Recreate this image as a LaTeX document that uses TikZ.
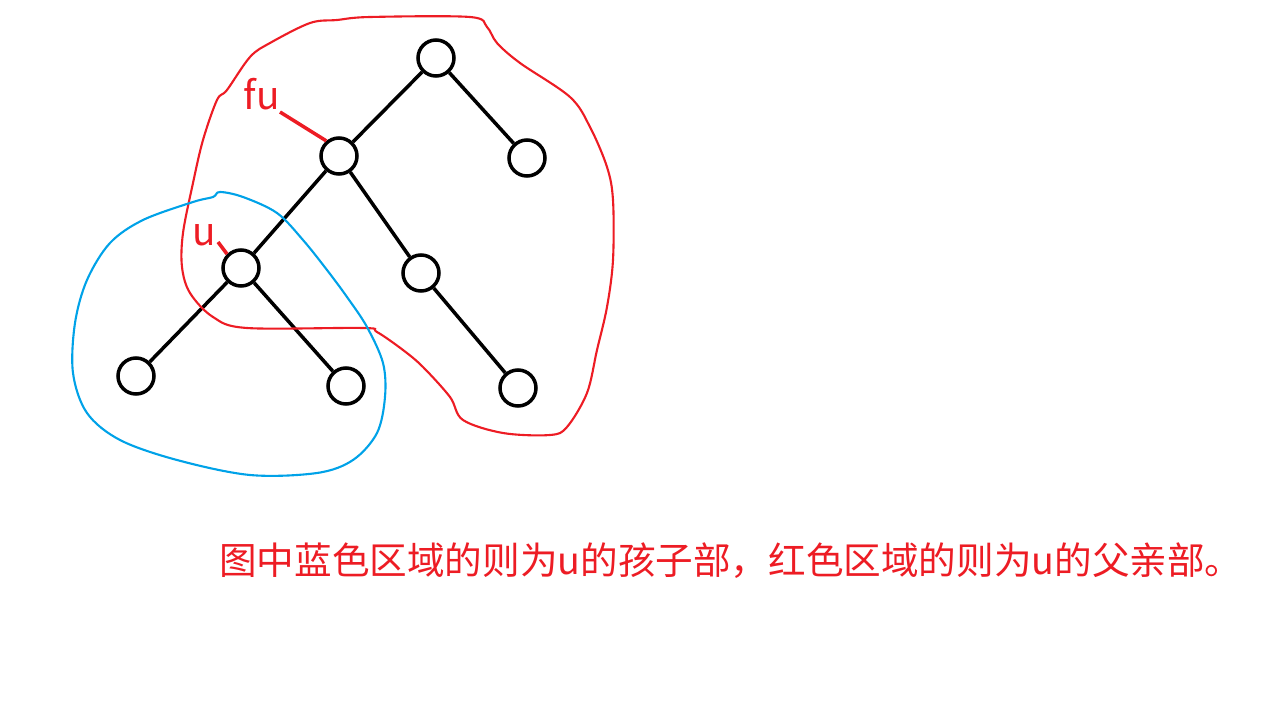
\documentclass[tikz,border=0pt]{standalone}
\usepackage{fontspec}
\newfontfamily\cjk{Noto Sans CJK SC}
\usetikzlibrary{calc}
\definecolor{paintred}{RGB}{237,28,36}
\definecolor{paintblue}{RGB}{0,162,232}
\tikzset{vertex/.style={circle, draw=black, line width=2pt, minimum size=0.72cm, inner sep=0pt},
edge/.style={line width=2pt},
region/.style={line width=1.2pt},
tag/.style={text=paintred, inner sep=0pt, font=\cjk\fontsize{22pt}{22pt}\selectfont}}

\begin{document}
\begin{tikzpicture}[x=0.02cm,y=-0.02cm]
\useasboundingbox (0,0) rectangle (1276,710);

% tree
\node[vertex] (root) at (436,58) {};
\node[vertex] (fu) at (339,156) {};
\node[vertex] (rc) at (527,158) {};
\node[vertex] (u) at (241,268) {};
\node[vertex] (mid) at (421,273) {};
\node[vertex] (ll) at (136,376) {};
\node[vertex] (lr) at (346,386) {};
\node[vertex] (br) at (518,388) {};

\foreach \a/\b in {root/fu,root/rc,fu/u,fu/mid,u/ll,u/lr,mid/br}
     \draw[edge] (\a) -- (\b);

% red region (father part)
\draw[paintred,region] plot[smooth cycle, tension=0.55] coordinates {
  (337,20) (370,17) (470,17) (487,27) (497,43) (520,63) (570,97) (590,127)
  (607,167) (613,200) (613,260) (607,307) (597,350) (587,393) (567,427)
  (550,435) (503,433) (463,420) (450,397) (423,367) (403,350) (377,332)
  (363,328) (247,328) (213,317) (190,293) (182,267) (183,233) (193,183)
  (203,140) (217,100) (227,90) (250,57) (270,43) (310,23)};

% blue region (child part)
\draw[paintblue,region] plot[smooth cycle, tension=0.55] coordinates {
  (220,192) (243,197) (277,213) (303,240) (327,270) (347,297) (367,327)
  (383,363) (385,397) (377,433) (353,460) (317,473) (250,475) (177,460)
  (120,440) (87,413) (73,373) (75,323) (87,280) (110,243) (143,220)
  (193,202) (213,197)};

% labels
\node[tag] (fulab) at (262,94) {fu};
\node[tag] (ulab) at (204,235) {u};
\coordinate (fuend) at (280,112);
\coordinate (uend) at (218,242);
\draw[paintred,line width=2pt] (fuend) -- (fu.130);
\draw[paintred,line width=2pt] (uend) -- (u.135);

\node[text=paintred, font=\cjk\fontsize{21.4pt}{22pt}\selectfont] (note) at (731,561)
  {图中蓝色区域的则为u的孩子部，红色区域的则为u的父亲部。};

\end{tikzpicture}
\end{document}
